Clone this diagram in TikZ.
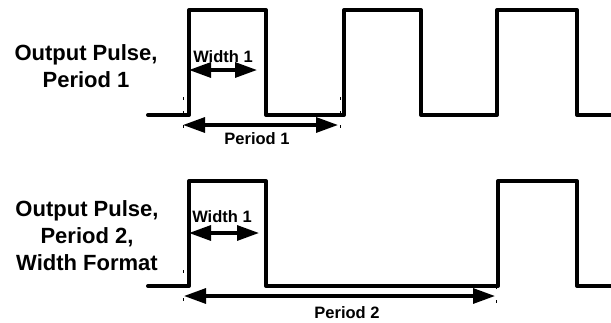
\documentclass[tikz,border=0pt]{standalone}
\usepackage{fontspec}
\setmainfont{Liberation Sans}
\usetikzlibrary{arrows.meta}
\tikzset{
  wave/.style={line width=4pt,line join=round,line cap=round},
  dimarrow/.style={line width=3.2pt,{Triangle[length=22pt,width=15pt]}-{Triangle[length=22pt,width=15pt]}},
  guide/.style={line width=1pt,dash pattern=on 3pt off 11pt},
  sidelabel/.style={font=\fontsize{22}{27}\selectfont\bfseries,align=center,anchor=north,inner sep=0pt},
  dimlabel/.style={font=\fontsize{16.5}{19}\selectfont\bfseries,inner sep=0pt},
}

\begin{document}
\begin{tikzpicture}[x=1pt,y=-1pt]
  \useasboundingbox (0,0) rectangle (611,322);
  % labels
  \node[sidelabel] (lab1) at (86,44) {Output Pulse,\\Period 1};
  \node[sidelabel] (lab2) at (87,200) {Output Pulse,\\Period 2,\\Width Format};
  % pulse train 1
  \draw[wave] (148,115) -- (189,115) -- (189,10) -- (266,10) -- (266,115) -- (344,115) -- (344,10) -- (421,10) -- (421,115) -- (497,115) -- (497,10) -- (577,10) -- (577,115) -- (615,115);
  % pulse train 2
  \draw[wave] (148,286) -- (189,286) -- (189,181) -- (266,181) -- (266,286) -- (498,286) -- (498,181) -- (577,181) -- (577,286) -- (615,286);
  % guide ticks
  \coordinate (g1a) at (183,97);  \coordinate (g1b) at (183,133);
  \coordinate (g2a) at (340,97);  \coordinate (g2b) at (340,133);
  \coordinate (g3a) at (183,270); \coordinate (g3b) at (183,305);
  \coordinate (g4a) at (496,272); \coordinate (g4b) at (496,305);
  \draw[guide] (g1a) -- (g1b);
  \draw[guide] (g2a) -- (g2b);
  \draw[guide] (g3a) -- (g3b);
  \draw[guide] (g4a) -- (g4b);
  % dimension arrows, period 1
  \coordinate (w1a) at (189,70);  \coordinate (w1b) at (257,70);
  \coordinate (p1a) at (183,125); \coordinate (p1b) at (338,125);
  \draw[dimarrow] (w1a) -- (w1b);
  \draw[dimarrow] (p1a) -- (p1b);
  \node[dimlabel] (wid1) at (223,57) {Width 1};
  \node[dimlabel] (per1) at (257,139) {Period 1};
  % dimension arrows, period 2
  \coordinate (w2a) at (189,233); \coordinate (w2b) at (259,233);
  \coordinate (p2a) at (184,296); \coordinate (p2b) at (495,296);
  \draw[dimarrow] (w2a) -- (w2b);
  \draw[dimarrow] (p2a) -- (p2b);
  \node[dimlabel] (wid2) at (222,217) {Width 1};
  \node[dimlabel] (per2) at (347,313) {Period 2};
\end{tikzpicture}
\end{document}
